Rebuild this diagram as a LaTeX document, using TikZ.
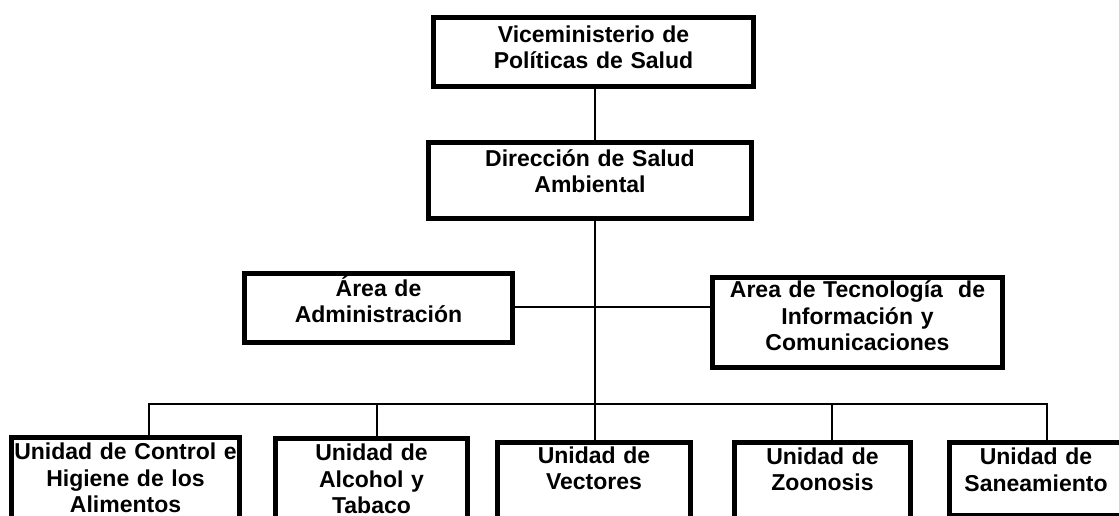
\documentclass[tikz,border=0pt]{standalone}
\usepackage{fontspec}
\setmainfont{Liberation Sans}

\begin{document}
\begin{tikzpicture}[x=1pt,y=-1pt,
  org/.style={draw,line width=5pt,anchor=north,inner sep=0pt,align=center,
    font=\bfseries\fontsize{23}{26.5}\selectfont},
  link/.style={line width=2pt}]
  \useasboundingbox (0,0) rectangle (1119,516);
  \clip (0,0) rectangle (1119,516);

  % top of the chart
  \node[org,text width=320pt,text height=24.5pt,text depth=44.5pt] (vice) at (593.5,15.5) {Viceministerio de\\Políticas de Salud};
  \node[org,text width=323pt,text height=23pt,text depth=52pt] (dir) at (590,140.5) {Dirección de Salud\\Ambiental};
  \node[org,text width=268pt,text height=23pt,text depth=46pt] (adm) at (378.5,270.5) {Área de\\Administración};
  \node[org,text width=290pt,text height=20.5pt,text depth=69.5pt] (tic) at (857.5,274.5) {Área de Tecnología~ de\\Información y\\Comunicaciones};

  % units
  \node[org,text width=228pt,text height=22.5pt,text depth=110pt] (ctl) at (125.5,434.5) {Unidad de Control e\\Higiene de los\\Alimentos};
  \node[org,text width=192pt,text height=22.5pt,text depth=110pt] (alc) at (371.5,435.5) {Unidad de\\Alcohol y\\Tabaco};
  \node[org,text width=193pt,text height=21pt,text depth=110pt] (vec) at (594,439.5) {Unidad de\\Vectores};
  \node[org,text width=176pt,text height=22pt,text depth=110pt] (zoo) at (822.5,439.5) {Unidad de\\Zoonosis};
  \node[org,text width=173pt,text height=22.5pt,text depth=50.5pt] (san) at (1036,439.5) {Unidad de\\Saneamiento};

  \coordinate (hub) at (595,307);
  \coordinate (d1) at (149,404);
  \coordinate (d2) at (377,404);
  \coordinate (d4) at (832,404);
  \coordinate (d5) at (1047,404);

  \draw[link] (vice.south -| hub) -- (dir.north -| hub);
  \draw[link] (dir.south -| hub) -- (vec.north -| hub);
  \draw[link] (adm.east |- hub) -- (tic.west |- hub);
  \draw[link] (ctl.north -| d1) -- (d1) -- (d5) -- (san.north -| d5);
  \draw[link] (alc.north -| d2) -- (d2);
  \draw[link] (zoo.north -| d4) -- (d4);
\end{tikzpicture}
\end{document}
